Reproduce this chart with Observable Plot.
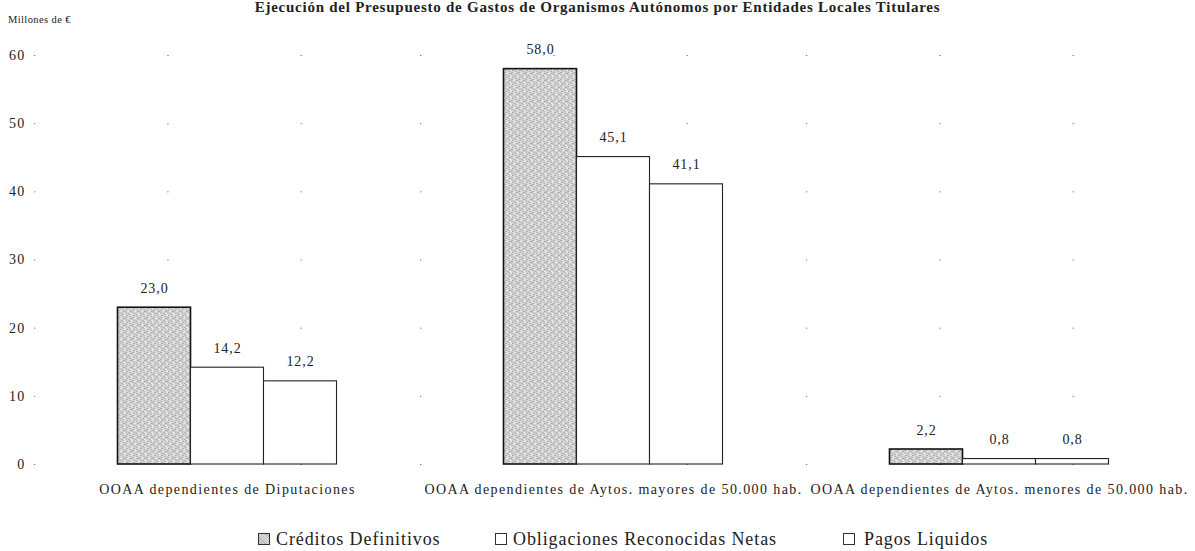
<!DOCTYPE html>
<html>
<head>
<meta charset="utf-8">
<script src="https://cdn.jsdelivr.net/npm/d3@7"></script>
<script src="https://cdn.jsdelivr.net/npm/@observablehq/plot@0.6"></script>
<style>
  body { margin: 0; background: #fff; overflow: hidden; }
  #wrap { position: relative; width: 1195px; height: 551px; font-family: "Liberation Serif", "DejaVu Serif", serif; color: #222; }
  #title { position: absolute; top: 0px; left: 0; width: 1195px; text-align: center; font-weight: bold; font-size: 15px; letter-spacing: 0.75px; white-space: nowrap; line-height: 15px; }
  #unit { position: absolute; top: 14px; left: 8px; font-size: 10.5px; letter-spacing: 0.4px; }
  #chart { position: absolute; top: 0; left: 0; }
  #legend { position: absolute; top: 0; left: 0; width: 1195px; height: 551px; font-size: 18px; letter-spacing: 0.9px; }
  .sw { position: absolute; top: 533px; width: 12px; height: 12px; border: 1px solid #333; box-sizing: border-box; background: #fff; }
  .lt { position: absolute; top: 528px; white-space: nowrap; line-height: 22px; }
  #chart g[aria-label="fx-axis tick label"] text { letter-spacing: 1.4px; }
  #chart g[aria-label="y-axis tick label"] text { letter-spacing: 1.2px; }
  #chart g[aria-label="text"] text { letter-spacing: 0.9px; }
</style>
</head>
<body>
<div id="wrap">
  <div id="chart"></div>
  <div id="title">Ejecución del Presupuesto de Gastos de Organismos Autónomos por Entidades Locales Titulares</div>
  <div id="unit">Millones de €</div>
  <div id="legend"></div>
</div>
<script>
const categories = [
  "OOAA dependientes de Diputaciones",
  "OOAA dependientes de Aytos. mayores de 50.000 hab.",
  "OOAA dependientes de Aytos. menores de 50.000 hab."
];
const series = ["Créditos Definitivos", "Obligaciones Reconocidas Netas", "Pagos Liquidos"];
const creditos = [23.0, 58.0, 2.2];
const obligaciones = [14.2, 45.1, 0.8];
const pagos = [12.2, 41.1, 0.8];
const yTicks = [0, 10, 20, 30, 40, 50, 60];

const values = [creditos, obligaciones, pagos];
const data = [];
categories.forEach((c, i) => {
  series.forEach((s, j) => data.push({ cat: c, serie: s, value: values[j][i] }));
});
const fmt = v => d3.format(".1f")(v).replace(".", ",");

const chart = Plot.plot({
  width: 1195,
  height: 520,
  marginLeft: 33.5,
  marginRight: 3.5,
  marginTop: 55,
  marginBottom: 56,
  style: { fontFamily: "Liberation Serif, serif", color: "#222", background: "transparent" },
  fx: { domain: categories, paddingInner: 0, paddingOuter: 0, label: null },
  x: { domain: series, paddingInner: 0, paddingOuter: 1.1438, axis: null },
  y: { domain: [0, 60], label: null },
  marks: [
    Plot.gridY(yTicks, { stroke: "#777", strokeOpacity: 1, strokeWidth: 1, strokeDasharray: "1.3,132", facet: "exclude" }),
    Plot.axisY(yTicks, { tickSize: 0, tickPadding: 9, fontSize: 14, label: null, fill: "#222" }),
    Plot.axisFx({ anchor: "bottom", tickSize: 0, tickPadding: 20, fontSize: 14, label: null, fill: "#222" }),
    Plot.barY(data, {
      fx: "cat", x: "serie", y: "value",
      fill: d => d.serie === series[0] ? "url(#stipple)" : "#fff",
      stroke: d => d.serie === series[0] ? "#111" : "#222",
      strokeWidth: d => d.serie === series[0] ? 1.6 : 1.1
    }),
    Plot.text(data, {
      fx: "cat", x: "serie", y: "value", text: d => fmt(d.value),
      dy: -15, lineAnchor: "bottom", fontSize: 14, fill: "#222"
    })
  ]
});

// stipple pattern
const ns = "http://www.w3.org/2000/svg";
const defs = document.createElementNS(ns, "defs");
const pat = document.createElementNS(ns, "pattern");
pat.setAttribute("id", "stipple");
pat.setAttribute("patternUnits", "userSpaceOnUse");
pat.setAttribute("width", 7);
pat.setAttribute("height", 7);
const bg = document.createElementNS(ns, "rect");
bg.setAttribute("width", 7); bg.setAttribute("height", 7); bg.setAttribute("fill", "#d2d2d2");
pat.appendChild(bg);
const dots = [[0,0,"#8a8a8a"],[3,1,"#a0a0a0"],[5,0,"#f4f4f4"],[1,3,"#f6f6f6"],[4,3,"#7e7e7e"],[6,4,"#b0b0b0"],[2,5,"#9a9a9a"],[5,6,"#f0f0f0"],[0,5,"#c0c0c0"],[6,2,"#8f8f8f"],[2,2,"#eeeeee"],[3,6,"#a8a8a8"],[1,1,"#e4e4e4"],[4,5,"#ffffff"]];
dots.forEach(([x, y, c]) => {
  const r = document.createElementNS(ns, "rect");
  r.setAttribute("x", x); r.setAttribute("y", y); r.setAttribute("width", 1); r.setAttribute("height", 1); r.setAttribute("fill", c);
  pat.appendChild(r);
});
defs.appendChild(pat);
chart.insertBefore(defs, chart.firstChild);
document.getElementById("chart").appendChild(chart);

// legend
const swX = [258, 495, 843];
const txX = [276, 513, 864];
const legend = document.getElementById("legend");
series.forEach((s, j) => {
  const sw = document.createElement("div");
  sw.className = "sw";
  sw.style.left = swX[j] + "px";
  if (j === 0) sw.style.background = "repeating-linear-gradient(45deg,#b5b5b5 0 1px,#dedede 1px 2px)";
  legend.appendChild(sw);
  const t = document.createElement("div");
  t.className = "lt";
  t.style.left = txX[j] + "px";
  t.textContent = s;
  legend.appendChild(t);
});
</script>
</body>
</html>
